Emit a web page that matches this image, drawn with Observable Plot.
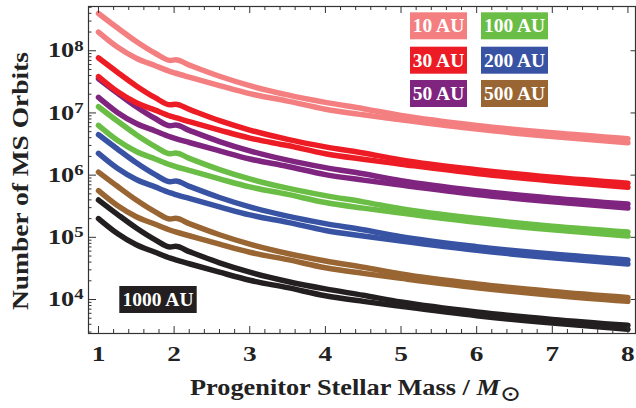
<!DOCTYPE html>
<html><head><meta charset="utf-8">
<script src="https://cdn.jsdelivr.net/npm/d3@7"></script>
<script src="https://cdn.jsdelivr.net/npm/@observablehq/plot@0.6"></script>
<style>
body{margin:0;background:#fff;}
#chart svg text{font-family:"Liberation Serif","DejaVu Serif",serif;font-weight:bold;}
</style></head><body><div id="chart"></div>
<script>
// ---- data ----
const masses = [1, 1.25, 1.5, 1.75, 1.95, 2.02, 2.2, 2.6, 3, 3.5, 4, 4.5, 5, 6, 7, 8];

const au10Upper = [3.98e8, 2.34e8, 1.41e8, 9.12e7, 7.00e7, 7.16e7, 5.89e7, 3.89e7, 2.75e7, 1.95e7, 1.48e7, 1.17e7, 9.12e6, 6.31e6, 4.79e6, 3.85e6];
const au10Lower = [2.00e8, 1.15e8, 7.59e7, 5.75e7, 4.62e7, 4.35e7, 3.76e7, 2.75e7, 2.04e7, 1.55e7, 1.15e7, 9.33e6, 7.76e6, 5.50e6, 4.17e6, 3.31e6];
const au30Upper = [7.67e7, 4.52e7, 2.72e7, 1.76e7, 1.35e7, 1.38e7, 1.14e7, 7.50e6, 5.31e6, 3.76e6, 2.85e6, 2.27e6, 1.76e6, 1.22e6, 9.23e5, 7.41e5];
const au30Lower = [3.85e7, 2.21e7, 1.46e7, 1.11e7, 8.91e6, 8.38e6, 7.24e6, 5.31e6, 3.94e6, 2.99e6, 2.21e6, 1.80e6, 1.50e6, 1.06e6, 8.04e5, 6.38e5];
const au50Upper = [3.55e7, 2.09e7, 1.26e7, 8.13e6, 6.24e6, 6.38e6, 5.25e6, 3.47e6, 2.46e6, 1.74e6, 1.32e6, 1.05e6, 8.13e5, 5.62e5, 4.27e5, 3.43e5];
const au50Lower = [1.78e7, 1.02e7, 6.76e6, 5.13e6, 4.12e6, 3.87e6, 3.35e6, 2.46e6, 1.82e6, 1.38e6, 1.02e6, 8.32e5, 6.92e5, 4.90e5, 3.72e5, 2.95e5];
const au100Upper = [1.26e7, 7.41e6, 4.47e6, 2.88e6, 2.21e6, 2.27e6, 1.86e6, 1.23e6, 8.71e5, 6.17e5, 4.68e5, 3.72e5, 2.88e5, 2.00e5, 1.51e5, 1.22e5];
const au100Lower = [6.31e6, 3.63e6, 2.40e6, 1.82e6, 1.46e6, 1.37e6, 1.19e6, 8.71e5, 6.46e5, 4.90e5, 3.63e5, 2.95e5, 2.45e5, 1.74e5, 1.32e5, 1.05e5];
const au200Upper = [4.47e6, 2.63e6, 1.58e6, 1.02e6, 7.85e5, 8.04e5, 6.61e5, 4.37e5, 3.09e5, 2.19e5, 1.66e5, 1.32e5, 1.02e5, 7.08e4, 5.37e4, 4.32e4];
const au200Lower = [2.24e6, 1.29e6, 8.51e5, 6.46e5, 5.19e5, 4.88e5, 4.22e5, 3.09e5, 2.29e5, 1.74e5, 1.29e5, 1.05e5, 8.71e4, 6.17e4, 4.68e4, 3.72e4];
const au500Upper = [1.12e6, 6.61e5, 3.98e5, 2.57e5, 1.97e5, 2.02e5, 1.66e5, 1.10e5, 7.76e4, 5.50e4, 4.17e4, 3.31e4, 2.57e4, 1.78e4, 1.35e4, 1.08e4];
const au500Lower = [5.62e5, 3.24e5, 2.14e5, 1.62e5, 1.30e5, 1.22e5, 1.06e5, 7.76e4, 5.75e4, 4.37e4, 3.24e4, 2.63e4, 2.19e4, 1.55e4, 1.17e4, 9.33e3];
const au1000Upper = [3.98e5, 2.34e5, 1.41e5, 9.12e4, 7.00e4, 7.16e4, 5.89e4, 3.89e4, 2.75e4, 1.95e4, 1.48e4, 1.17e4, 9.12e3, 6.31e3, 4.79e3, 3.85e3];
const au1000Lower = [2.00e5, 1.15e5, 7.59e4, 5.75e4, 4.62e4, 4.35e4, 3.76e4, 2.75e4, 2.04e4, 1.55e4, 1.15e4, 9.33e3, 7.76e3, 5.50e3, 4.17e3, 3.31e3];

const distanceLabels = ["10 AU", "30 AU", "50 AU", "100 AU", "200 AU", "500 AU", "1000 AU"];
const seriesColors = ["#f37f81", "#ed1c24", "#7f2580", "#6abd45", "#3953a4", "#996633", "#231f20"];
const xTickLabels = [1, 2, 3, 4, 5, 6, 7, 8];
const yTickValues = [1e4, 1e5, 1e6, 1e7, 1e8];

// ---- build table ----
const uppers = [au10Upper, au30Upper, au50Upper, au100Upper, au200Upper, au500Upper, au1000Upper];
const lowers = [au10Lower, au30Lower, au50Lower, au100Lower, au200Lower, au500Lower, au1000Lower];
const rows = [];
for (let i = distanceLabels.length - 1; i >= 0; i--) {
  masses.forEach((m, j) => rows.push({dist: distanceLabels[i], key: distanceLabels[i] + " upper", m, n: uppers[i][j]}));
  masses.forEach((m, j) => rows.push({dist: distanceLabels[i], key: distanceLabels[i] + " lower", m, n: lowers[i][j]}));
}

// ---- layout ----
const W = 636, H = 408, mL = 88, mR = 1, mT = 6, mB = 75;
const iw = W - mL - mR, ih = H - mT - mB;
const minorX = [];
for (let k = 1; k < 8; k++) for (let j = 1; j < 5; j++) minorX.push(+(k + 0.2 * j).toFixed(1));
const minorY = [];
for (let e = 3; e <= 8; e++) for (let f = 2; f <= 9; f++) { const v = f * 10 ** e; if (v > 2.84e3 && v < 5.15e8) minorY.push(v); }
const tickColor = "#333";

const plot = Plot.plot({
  width: W, height: H,
  marginLeft: mL, marginRight: mR, marginTop: mT, marginBottom: mB,
  x: {domain: [0.868, 8.10]},
  y: {type: "log", domain: [2.84e3, 5.15e8]},
  color: {domain: distanceLabels, range: seriesColors},
  marks: [
    Plot.line(rows, {x: "m", y: "n", z: "key", stroke: "dist", strokeWidth: 5.5,
      strokeLinecap: "round", strokeLinejoin: "round", curve: "monotone-x"}),
    Plot.frame({stroke: tickColor, strokeWidth: 1.2}),
    Plot.ruleX(xTickLabels, {x: d => d, insetTop: ih - 7, stroke: tickColor}),
    Plot.ruleX(minorX, {x: d => d, insetTop: ih - 4, stroke: tickColor}),
    Plot.ruleX(xTickLabels, {x: d => d, insetBottom: ih - 7, stroke: tickColor}),
    Plot.ruleX(minorX, {x: d => d, insetBottom: ih - 4, stroke: tickColor}),
    Plot.ruleY(yTickValues, {y: d => d, insetRight: iw - 8, stroke: tickColor}),
    Plot.ruleY(minorY, {y: d => d, insetRight: iw - 3.5, stroke: tickColor}),
    Plot.ruleY(yTickValues, {y: d => d, insetLeft: iw - 4.5, stroke: tickColor}),
    Plot.axisX(xTickLabels, {tickSize: 0, tickPadding: 13, fontSize: 21, label: null, tickFormat: d => String(d), fill: "#222"}),
    Plot.axisY(yTickValues, {tickSize: 0, tickPadding: 5, fontSize: 21, label: null,
      tickFormat: d => "10|" + Math.round(Math.log10(d)), fill: "#222"})
  ]
});
document.getElementById("chart").appendChild(plot);

const svg = d3.select(plot);
function stretch(node, sx) {
  const t = d3.select(node);
  const tr = t.attr("transform");
  if (tr) {
    t.attr("transform", tr + ` scale(${sx},1)`);
  } else {
    const x = +t.attr("x") || 0;
    t.attr("x", null).attr("transform", `translate(${x},0) scale(${sx},1)`);
  }
}
svg.selectAll('g[aria-label="y-axis tick label"] text').each(function () {
  const t = d3.select(this);
  const parts = t.text().split("|");
  t.text(null);
  t.append("tspan").text(parts[0]);
  t.append("tspan").attr("dy", "-0.45em").attr("font-size", "15px").text(parts[1]);
  stretch(this, 1.25);
});
svg.selectAll('g[aria-label="x-axis tick label"] text').each(function () { stretch(this, 1.3); });

// axis titles
svg.append("text")
  .attr("transform", "translate(28,181) rotate(-90)")
  .attr("text-anchor", "middle").attr("font-size", 22.5).attr("fill", "#222")
  .attr("textLength", 258).attr("lengthAdjust", "spacingAndGlyphs")
  .text("Number of MS Orbits");
const xt = svg.append("text")
  .attr("transform", "translate(190,395) scale(1.17,1)")
  .attr("text-anchor", "start")
  .attr("font-size", 22.5).attr("fill", "#222");
xt.append("tspan").text("Progenitor Stellar Mass / ");
xt.append("tspan").attr("font-style", "italic").text("M");
xt.append("tspan").attr("dy", 6).attr("font-size", 22).attr("font-weight", "normal").text("\u2299");

// legend boxes
const legendLayout = [
  {x: 410, y: 12.3, w: 57}, {x: 410, y: 46.7, w: 57}, {x: 410, y: 80, w: 57},
  {x: 481, y: 12.3, w: 67}, {x: 481, y: 46.7, w: 67}, {x: 481, y: 80, w: 67},
  {x: 119.3, y: 286, w: 77.4}
];
const lg = svg.append("g").attr("text-anchor", "middle");
distanceLabels.forEach((label, i) => {
  const p = legendLayout[i];
  lg.append("rect").attr("x", p.x).attr("y", p.y).attr("width", p.w).attr("height", 27).attr("fill", seriesColors[i]);
  lg.append("text").attr("x", p.x + p.w / 2).attr("y", p.y + 20)
    .attr("font-size", 19.5).attr("fill", "white").text(label);
});
</script></body></html>
